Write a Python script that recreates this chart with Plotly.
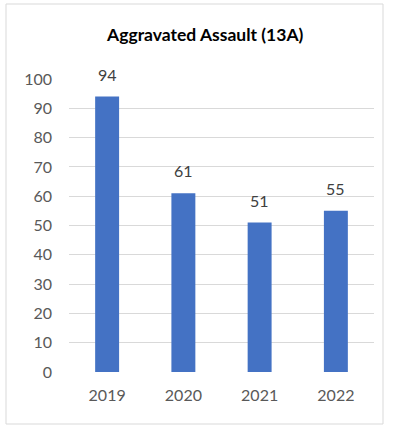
import plotly.graph_objects as go

years = ["2019", "2020", "2021", "2022"]
counts = [94, 61, 51, 55]
title_text = "Aggravated Assault (13A)"
y_ticks = list(range(0, 101, 10))

FONT = "Lato, Open Sans, sans-serif"

fig = go.Figure()
fig.add_trace(go.Bar(
    x=years, y=counts,
    marker=dict(color="#4472C4", line=dict(width=0)),
    hoverinfo="x+y",
))

for i, v in enumerate(counts):
    fig.add_annotation(x=i, y=v, xref="x", yref="y", text=str(v), showarrow=False,
                       yanchor="bottom", yshift=11,
                       font=dict(family=FONT, size=16, color="#404040"))

fig.update_layout(
    width=400, height=425,
    margin=dict(l=69, r=26, t=79, b=53),
    paper_bgcolor="white", plot_bgcolor="white",
    bargap=0.686,
    showlegend=False,
    title=dict(text="<b>" + title_text + "</b>", x=0.513, xanchor="center",
               y=1 - 35 / 425, yanchor="middle", yref="container",
               font=dict(family=FONT, size=17.5, color="black")),
    xaxis=dict(type="category", range=[-0.5, len(years) - 0.5],
               showgrid=False, showline=False, zeroline=False, ticks="",
               tickfont=dict(family=FONT, size=16, color="#595959"),
               ticklabelstandoff=12),
    yaxis=dict(range=[0, 100], tickvals=y_ticks, showgrid=True,
               gridcolor="#D9D9D9", gridwidth=1, zeroline=False,
               showline=False, ticks="",
               tickfont=dict(family=FONT, size=16, color="#595959"),
               ticklabelstandoff=16),
    shapes=[dict(type="rect", xref="paper", yref="paper",
                 x0=-63 / 305, x1=(383 - 69) / 305,
                 y0=-(424 - 372) / 293, y1=(372 - 4) / 293,
                 line=dict(color="#D9D9D9", width=1), layer="below")],
)

fig.write_html("out.html", config={"displayModeBar": False},
               post_script="document.body.style.margin='0';")
